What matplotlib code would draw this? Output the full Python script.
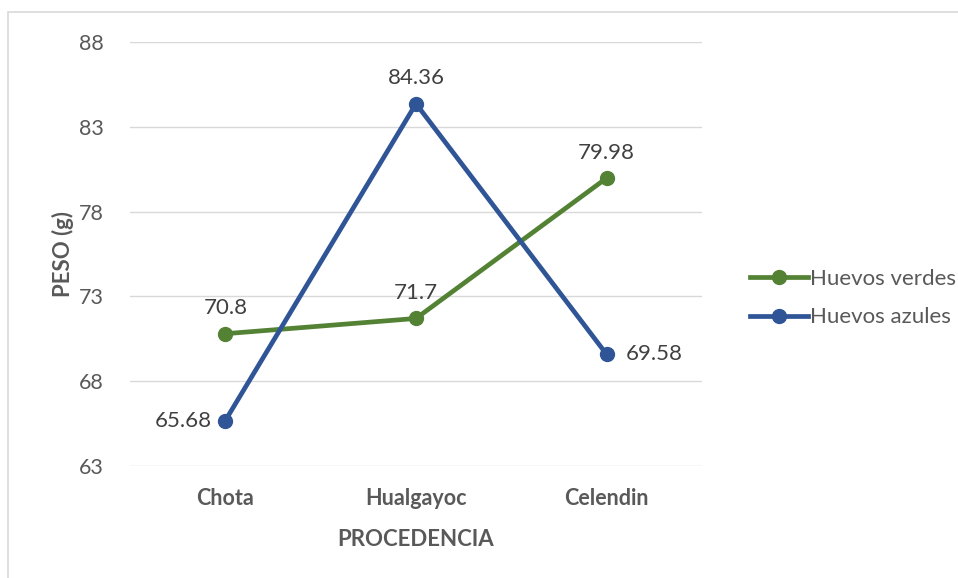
import matplotlib
matplotlib.use('Agg')
from matplotlib import pyplot as plt
from matplotlib.patches import Rectangle

plt.rcParams['font.family'] = ['Lato', 'DejaVu Sans']

categories = ['Chota', 'Hualgayoc', 'Celendin']
verdes = [70.8, 71.7, 79.98]
azules = [65.68, 84.36, 69.58]
yticks = [63, 68, 73, 78, 83, 88]

green = '#548235'
blue = '#2F5597'
gray = '#595959'

fig = plt.figure(figsize=(9.58, 5.78), dpi=100)
ax = fig.add_axes([130 / 958, 1 - 466 / 578, 572 / 958, 424 / 578])

fig.patches.append(Rectangle((8 / 958, -0.1), 1.2, 1 - 12 / 578 + 0.1,
                             transform=fig.transFigure, fill=False,
                             edgecolor='#d9d9d9', linewidth=1.2))

x = list(range(len(categories)))
ax.plot(x, verdes, color=green, lw=3.4, marker='o', ms=10, label='Huevos verdes', zorder=3)
ax.plot(x, azules, color=blue, lw=3.4, marker='o', ms=10, label='Huevos azules', zorder=3)

# data labels
offs_v = [(0, 11, 'center'), (0, 11, 'center'), (0, 11, 'center')]
offs_a = [(-10, 0, 'right'), (0, 11, 'center'), (14, 0, 'left')]
for xi, v, (dx, dy, ha) in zip(x, verdes, offs_v):
    ax.annotate(f'{v:g}', (xi, v), xytext=(dx, dy), textcoords='offset points',
                ha=ha, va='bottom' if dy > 0 else 'center', fontsize=16, color='#404040')
for xi, v, (dx, dy, ha) in zip(x, azules, offs_a):
    ax.annotate(f'{v:g}', (xi, v), xytext=(dx, dy), textcoords='offset points',
                ha=ha, va='bottom' if dy > 0 else 'center', fontsize=16, color='#404040')

ax.set_xlim(-0.5, 2.5)
ax.set_ylim(63, 88)
ax.set_yticks(yticks)
ax.set_xticks(x)
ax.set_xticklabels(categories, fontweight='bold', fontsize=15.5)
ax.tick_params(axis='both', length=0, colors=gray, labelsize=15.5)
ax.tick_params(axis='x', pad=16)
ax.tick_params(axis='y', pad=19)
ax.grid(axis='y', color='#d9d9d9', lw=1)
ax.set_axisbelow(True)
for s in ax.spines.values():
    s.set_visible(False)

ax.set_xlabel('PROCEDENCIA', fontsize=16, fontweight='bold', color=gray, labelpad=14)
ax.set_ylabel('PESO (g)', fontsize=16, fontweight='bold', color=gray, labelpad=3)

leg = fig.legend(loc='center left', bbox_to_anchor=(730 / 958, 1 - 298 / 578),
                 frameon=False, fontsize=16, handlelength=2.6, handletextpad=0.1,
                 labelspacing=0.85)
for t in leg.get_texts():
    t.set_color(gray)

fig.savefig('out.png', dpi=100)
